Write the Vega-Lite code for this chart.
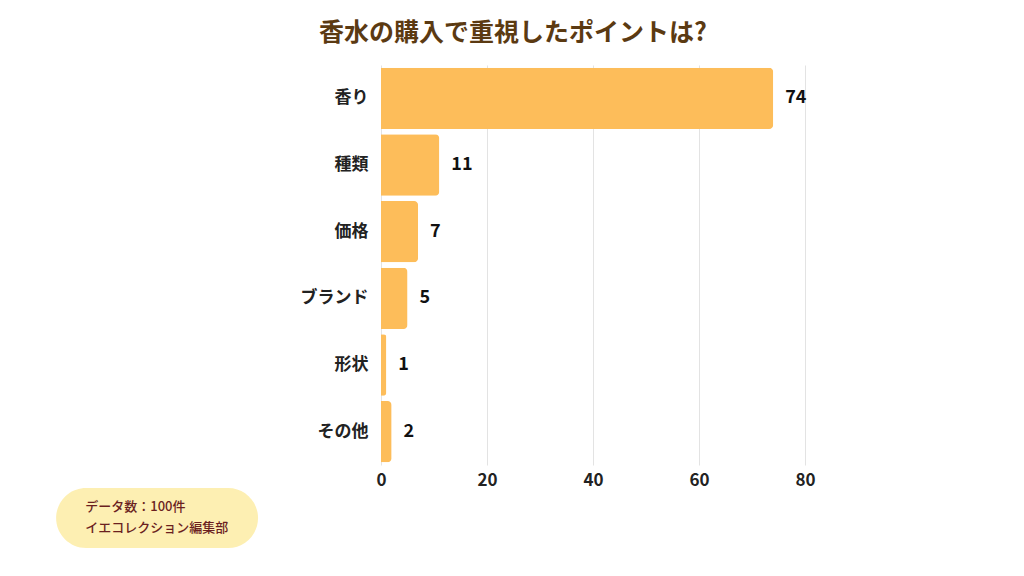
{
  "$schema": "https://vega.github.io/schema/vega-lite/v6.json",
  "width": 424,
  "height": 400,
  "autosize": {"type": "none"},
  "padding": {"left": 381, "top": 65, "right": 219, "bottom": 111},
  "background": "white",
  "config": {
    "view": {"stroke": null},
    "font": "Noto Sans CJK JP"
  },
  "title": {
    "text": "香水の購入で重視したポイントは?",
    "anchor": "middle",
    "dx": -80,
    "offset": 19,
    "fontSize": 25,
    "fontWeight": "bold",
    "color": "#5b3a12",
    "font": "Noto Sans CJK JP"
  },
  "datasets": {
    "bars": [
      {"item": "香り", "count": 74},
      {"item": "種類", "count": 11},
      {"item": "価格", "count": 7},
      {"item": "ブランド", "count": 5},
      {"item": "形状", "count": 1},
      {"item": "その他", "count": 2}
    ],
    "box": [{"x1": -61.3, "x2": -23.2, "y1": -0.0575, "y2": -0.2075}],
    "note": [
      {"line": "データ数：100件", "nx": -55.8, "ny": -0.105},
      {"line": "イエコレクション編集部", "nx": -55.8, "ny": -0.1575}
    ]
  },
  "layer": [
    {
      "data": {"name": "bars"},
      "encoding": {
        "y": {
          "field": "item", "type": "nominal", "sort": null,
          "scale": {"paddingInner": 0.08, "paddingOuter": 0.04},
          "axis": {
            "title": null, "ticks": false, "domain": false, "labelPadding": 13,
            "labelFontSize": 17, "labelFontWeight": "bold", "labelColor": "#222222",
            "labelFont": "Noto Sans CJK JP"
          }
        },
        "x": {
          "field": "count", "type": "quantitative",
          "scale": {"domain": [0, 80], "nice": false},
          "axis": {
            "title": null, "values": [0, 20, 40, 60, 80], "ticks": false, "domain": false,
            "grid": true, "gridColor": "#e3e3e3", "labelPadding": 7, "labelFlush": false,
            "labelFontSize": 17, "labelFontWeight": "bold", "labelColor": "#222222",
            "labelFont": "Noto Sans CJK JP"
          }
        }
      },
      "layer": [
        {"mark": {"type": "bar", "color": "#fdbd5a", "cornerRadiusEnd": 4}},
        {
          "mark": {"type": "text", "align": "left", "dx": 12, "fontSize": 18, "fontWeight": "bold", "color": "#111111", "font": "Noto Sans CJK JP"},
          "encoding": {"text": {"field": "count", "type": "quantitative"}}
        }
      ]
    },
    {
      "data": {"name": "box"},
      "mark": {"type": "rect", "color": "#fdefb2", "cornerRadius": 30, "clip": false},
      "encoding": {
        "x": {"field": "x1", "type": "quantitative"},
        "x2": {"field": "x2"},
        "y": {"field": "y1", "type": "quantitative", "scale": {"domain": [0, 1], "nice": false, "zero": false}, "axis": null},
        "y2": {"field": "y2"}
      }
    },
    {
      "data": {"name": "note"},
      "mark": {"type": "text", "align": "left", "baseline": "middle", "fontSize": 13, "fontWeight": 500, "color": "#6b1f1f", "font": "Noto Sans CJK JP", "clip": false},
      "encoding": {
        "x": {"field": "nx", "type": "quantitative"},
        "y": {"field": "ny", "type": "quantitative", "scale": {"domain": [0, 1], "nice": false, "zero": false}, "axis": null},
        "text": {"field": "line"}
      }
    }
  ],
  "resolve": {"scale": {"y": "independent"}}
}
